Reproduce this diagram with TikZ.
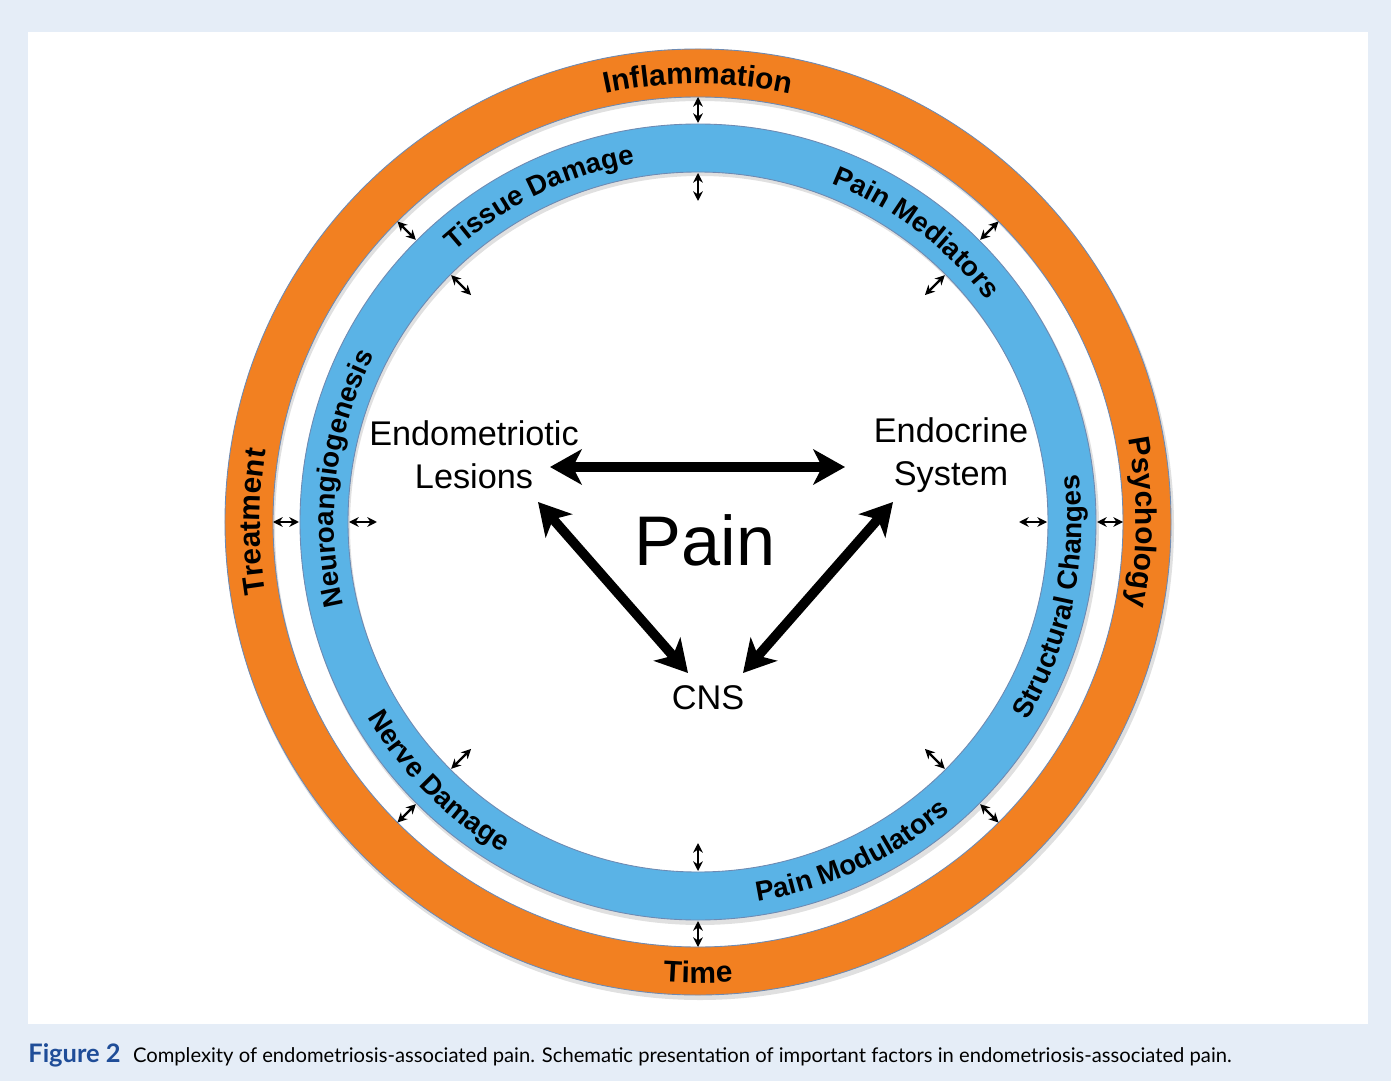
\documentclass[tikz,border=0pt]{standalone}
\usepackage{fontspec}
\setmainfont{Liberation Sans}
\newfontfamily\capfont{Lato}
\usepackage{tikz}
\usetikzlibrary{arrows.meta,decorations.text}

\definecolor{ringorange}{RGB}{242,128,33}
\definecolor{ringblue}{RGB}{90,179,230}
\definecolor{ringedge}{RGB}{110,138,178}
\definecolor{pagebg}{RGB}{229,237,247}
\definecolor{figblue}{RGB}{31,77,152}
\newcommand{\ringfont}{\bfseries\fontsize{17}{20}\selectfont}
\newcommand{\bandfont}{\bfseries\fontsize{15.8}{19}\selectfont}

\begin{document}
\begin{tikzpicture}[x=0.02cm, y=0.02cm,
    every node/.style={font=\fontsize{19.5}{24.5}\selectfont},
    ringtext/.style={decorate, decoration={text along path, text align=center, text={|\ringfont|#1}}},
    bandtext/.style={decorate, decoration={text along path, text align=center, text={|\bandfont|#1}}},
    smallarr/.style={{Stealth[length=5.5pt,width=5.5pt]}-{Stealth[length=5.5pt,width=5.5pt]}, line width=1.3pt},
    bigarr/.style={{Stealth[length=18pt,width=20pt,inset=5pt]}-{Stealth[length=18pt,width=20pt,inset=5pt]}, line width=5.5pt}]
    \useasboundingbox (-698,-559) rectangle (693,522);
    \fill[pagebg] (-698,-559) rectangle (693,522);
    \fill[white] (-670,490) rectangle (670,-502);

    % rings
    \fill[black, opacity=0.12, even odd rule] (2,-4) circle[radius=474] (2,-4) circle[radius=425];
    \fill[black, opacity=0.12, even odd rule] (2,-4) circle[radius=399] (2,-4) circle[radius=350];
    \filldraw[ringorange, draw=ringedge, line width=0.5pt, even odd rule] (0,0) circle[radius=473] (0,0) circle[radius=425];
    \filldraw[ringblue, draw=ringedge, line width=0.5pt, even odd rule] (0,0) circle[radius=398] (0,0) circle[radius=350];

    % small arrows between the rings
    \foreach \a in {0,45,...,315} {
        \draw[smallarr] (\a:399) -- (\a:425);
        \draw[smallarr] (\a:349) -- (\a:321);
    }

    % outer ring labels
    \path[ringtext=Inflammation] (180:438) arc[start angle=180, end angle=0, radius=438];
    \path[ringtext=Psychology] (90:438) arc[start angle=90, end angle=-90, radius=438];
    \path[ringtext=Treatment] (270:438) arc[start angle=270, end angle=90, radius=438];
    \path[ringtext=Time] (180:461) arc[start angle=180, end angle=360, radius=461];

    % inner ring labels
    \path[bandtext=Tissue Damage] (206:364) arc[start angle=206, end angle=26, radius=364];
    \path[bandtext=Pain Mediators] (143:364) arc[start angle=143, end angle=-37, radius=364];
    \path[bandtext=Neuroangiogenesis] (263:364) arc[start angle=263, end angle=83, radius=364];
    \path[bandtext=Nerve Damage] (135:384) arc[start angle=135, end angle=315, radius=384];
    \path[bandtext=Pain Modulators] (205:384) arc[start angle=205, end angle=385, radius=384];
    \path[bandtext=Structural Changes] (258:384) arc[start angle=258, end angle=438, radius=384];

    % centre
    \node[align=center] (lesions) at (-224,67) {Endometriotic\\Lesions};
    \node[align=center] (endocrine) at (253,67) {Endocrine\\System};
    \node[font=\fontsize{40}{44}\selectfont] (pain) at (7,-18) {Pain};
    \node (cns) at (10,-176) {CNS};

    \coordinate (lesA) at (-148,55);
    \coordinate (endA) at (147,55);
    \coordinate (lesB) at (-160,20);
    \coordinate (endB) at (195,20);
    \coordinate (cnsL) at (-10,-151);
    \coordinate (cnsR) at (45,-151);

    \draw[bigarr] (lesA) -- (endA);
    \draw[bigarr] (lesB) -- (cnsL);
    \draw[bigarr] (endB) -- (cnsR);

    % caption
    \node[anchor=base west, inner sep=0pt, font=\capfont\fontsize{11.5}{14}\selectfont] (caption) at (-670,-540)
        {{\bfseries\color{figblue}\fontsize{14.5}{15}\selectfont Figure 2}\hspace{7pt}Complexity of endometriosis-associated pain. Schematic presentation of important factors in endometriosis-associated pain.};
\end{tikzpicture}
\end{document}
